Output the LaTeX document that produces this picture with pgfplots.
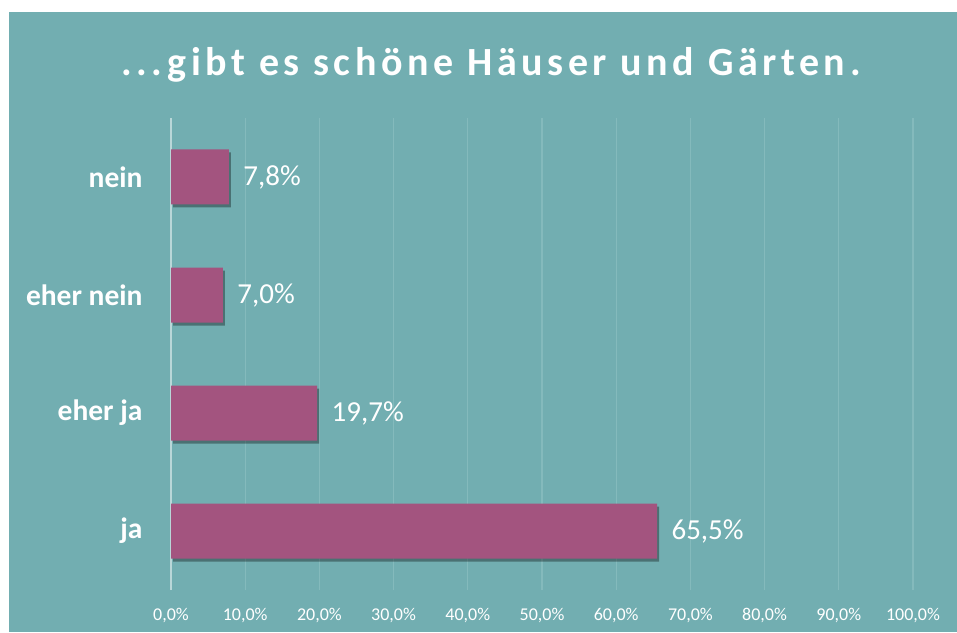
\documentclass[border=0pt]{standalone}
\usepackage{fontspec}
\setmainfont{Carlito}
\newfontfamily\titlefont[LetterSpace=11.5]{Carlito}
\usepackage{pgfplots}
\pgfplotsset{compat=1.18}
\usetikzlibrary{shadows}
\definecolor{bg}{RGB}{114,174,177}
\definecolor{barc}{RGB}{163,84,127}
\definecolor{gridc}{RGB}{132,186,188}
\definecolor{axisc}{RGB}{185,215,216}
\begin{document}
\begin{tikzpicture}[x=1pt,y=1pt]
\fill[white] (0,0) rectangle (957,632);
\fill[bg] (9,0) rectangle (957,620);
\node[text=white,font=\titlefont\bfseries\fontsize{40}{46}\selectfont] at (491,567) {...gibt es schöne Häuser und Gärten.};
\begin{axis}[
  at={(171pt,42pt)}, anchor=south west,
  scale only axis, width=742pt, height=472pt,
  xmin=0, xmax=100, ymin=-0.5, ymax=3.5,
  axis line style={draw=none},
  xtick={0,10,...,100},
  ytick={0,1,2,3},
  yticklabels={ja,eher ja,eher nein,nein},
  major tick length=0pt,
  xmajorgrids, grid style={gridc, line width=1.2pt},
  extra x ticks={0}, extra x tick labels={},
  extra x tick style={grid style={axisc, line width=2pt}},
  /pgf/number format/assume math mode=true,
  xticklabel={\pgfmathprintnumber[fixed,fixed zerofill,precision=1,use comma]{\tick}\%},
  xticklabel style={font=\fontsize{18}{20}\selectfont, text=white, yshift=-15pt},
  yticklabel style={font=\bfseries\fontsize{29.5}{32}\selectfont, text=white, xshift=-25pt},
  xbar, bar width=55pt,
  nodes near coords={\pgfmathprintnumber[fixed,fixed zerofill,precision=1,use comma]{\pgfplotspointmeta}\%},
  nodes near coords style={font=\fontsize{29}{32}\selectfont, text=white, anchor=west, xshift=11pt},
  point meta=explicit,
  clip=false,
]
\addplot[fill=barc, draw=none, drop shadow={shadow xshift=2pt, shadow yshift=-3pt, opacity=0.35, fill=black}]
  coordinates {(65.5,0) [65.5] (19.7,1) [19.7] (7.0,2) [7.0] (7.8,3) [7.8]};
\end{axis}
\end{tikzpicture}
\end{document}
